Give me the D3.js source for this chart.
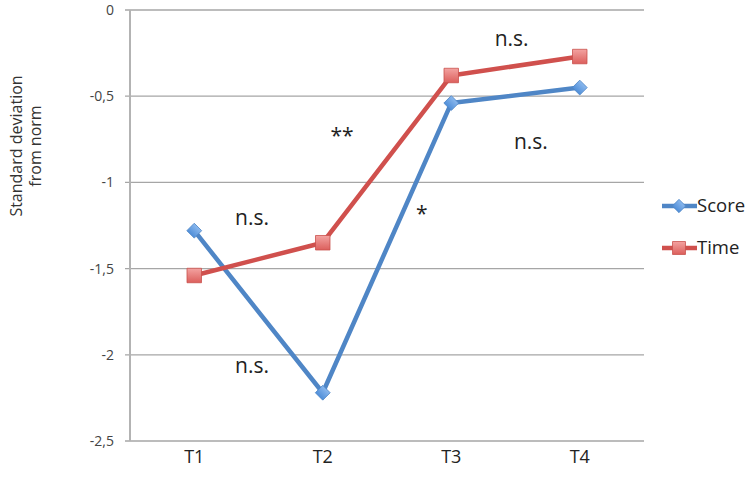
<!DOCTYPE html>
<html><head><meta charset="utf-8">
<script src="https://cdn.jsdelivr.net/npm/d3@7"></script>
<style>body{margin:0;background:#fff}svg{display:block}text{font-family:"Open Sans",sans-serif}</style>
</head><body>
<svg id="c" width="756" height="501"></svg>
<script>
const categories = ["T1","T2","T3","T4"];
const scoreValues = [-1.28, -2.22, -0.54, -0.45];
const timeValues = [-1.54, -1.35, -0.38, -0.27];
const yTicks = [0, -0.5, -1, -1.5, -2, -2.5];
const yTickLabels = ["0","-0,5","-1","-1,5","-2","-2,5"];
const annotations = [
  {text:"n.s.", cat:0.45, v:-1.205},
  {text:"n.s.", cat:0.45, v:-2.065},
  {text:"**", cat:1.15, v:-0.73},
  {text:"*", cat:1.77, v:-1.18},
  {text:"n.s.", cat:2.47, v:-0.165},
  {text:"n.s.", cat:2.62, v:-0.765}
];

const svg = d3.select("#c");
const L = 130, R = 644, T = 10, B = 441;
const x = d3.scaleBand().domain(categories).range([L, R]);
const y = d3.scaleLinear().domain([-2.5, 0]).range([B, T]);
const xc = c => x(c) + x.bandwidth()/2;
const xi = i => L + x.bandwidth()*(i+0.5);

svg.append("g").selectAll("line").data(yTicks).join("line")
  .attr("x1", L-5).attr("x2", R).attr("y1", d=>y(d)).attr("y2", d=>y(d))
  .attr("stroke", "#a6a6a6").attr("stroke-width", 1.3);
svg.append("line").attr("x1", L).attr("x2", L).attr("y1", T).attr("y2", B)
  .attr("stroke", "#b3b3b3").attr("stroke-width", 2);
svg.append("g").selectAll("text").data(yTicks).join("text")
  .attr("x", 114).attr("y", d=>y(d)).attr("dy", "0.35em")
  .attr("text-anchor", "end").attr("font-size", 14).attr("fill", "#444")
  .text((d,i)=>yTickLabels[i]);
svg.append("g").selectAll("text").data(categories).join("text")
  .attr("x", d=>xc(d)).attr("y", 463).attr("text-anchor","middle")
  .attr("font-size", 18).attr("fill", "#222").text(d=>d);
const yt = svg.append("text").attr("transform","translate(28,146) rotate(-90)")
  .attr("text-anchor","middle").attr("font-size",16).attr("fill","#333");
yt.append("tspan").attr("x",0).attr("dy","-0.4em").text("Standard deviation");
yt.append("tspan").attr("x",0).attr("dy","1.2em").text("from norm");

const defs = svg.append("defs");
const gr = defs.append("linearGradient").attr("id","gRed").attr("x1",0).attr("y1",0).attr("x2",0).attr("y2",1);
gr.append("stop").attr("offset","0").attr("stop-color","#f3a3a1");
gr.append("stop").attr("offset","1").attr("stop-color","#dc5f5c");
const gb = defs.append("linearGradient").attr("id","gBlue").attr("x1",0).attr("y1",0).attr("x2",0).attr("y2",1);
gb.append("stop").attr("offset","0").attr("stop-color","#8ab8ee");
gb.append("stop").attr("offset","1").attr("stop-color","#4f8ed8");

const line = d3.line().x((d,i)=>xc(categories[i])).y(d=>y(d));
const series = [
  {name:"Score", vals:scoreValues, color:"#4f86c6", sym:d3.symbolSquare, rot:45, size:110, fill:"url(#gBlue)", stroke:"#4f86c6"},
  {name:"Time", vals:timeValues, color:"#d0504d", sym:d3.symbolSquare, rot:0, size:210, fill:"url(#gRed)", stroke:"#c9504d"}
];
series.forEach(s=>{
  svg.append("path").datum(s.vals).attr("d", line).attr("fill","none")
    .attr("stroke", s.color).attr("stroke-width", 4.5).attr("stroke-linejoin","round");
});
series.forEach(s=>{
  svg.append("g").selectAll("path").data(s.vals).join("path")
    .attr("transform",(d,i)=>`translate(${xc(categories[i])},${y(d)}) rotate(${s.rot})`)
    .attr("d", d3.symbol().type(s.sym).size(s.size)())
    .attr("fill", s.fill).attr("stroke", s.stroke).attr("stroke-width",0.8);
});
svg.append("g").selectAll("text").data(annotations).join("text")
  .attr("x", d=>xi(d.cat)).attr("y", d=>y(d.v)).attr("dy","0.35em")
  .attr("text-anchor","middle").attr("font-size",21).attr("fill","#222")
  .text(d=>d.text);
const lg = svg.append("g");
series.forEach((s,i)=>{
  const yy = 206 + i*42;
  lg.append("line").attr("x1",662).attr("x2",697).attr("y1",yy).attr("y2",yy)
    .attr("stroke",s.color).attr("stroke-width",4.5);
  lg.append("path").attr("transform",`translate(679,${yy}) rotate(${s.rot})`)
    .attr("d", d3.symbol().type(s.sym).size(s.size*0.8)())
    .attr("fill", s.fill).attr("stroke", s.stroke).attr("stroke-width",0.8);
  lg.append("text").attr("x",697).attr("y",yy).attr("dy","0.35em")
    .attr("font-size",18.5).attr("fill","#222").text(s.name);
});
</script>
</body></html>
